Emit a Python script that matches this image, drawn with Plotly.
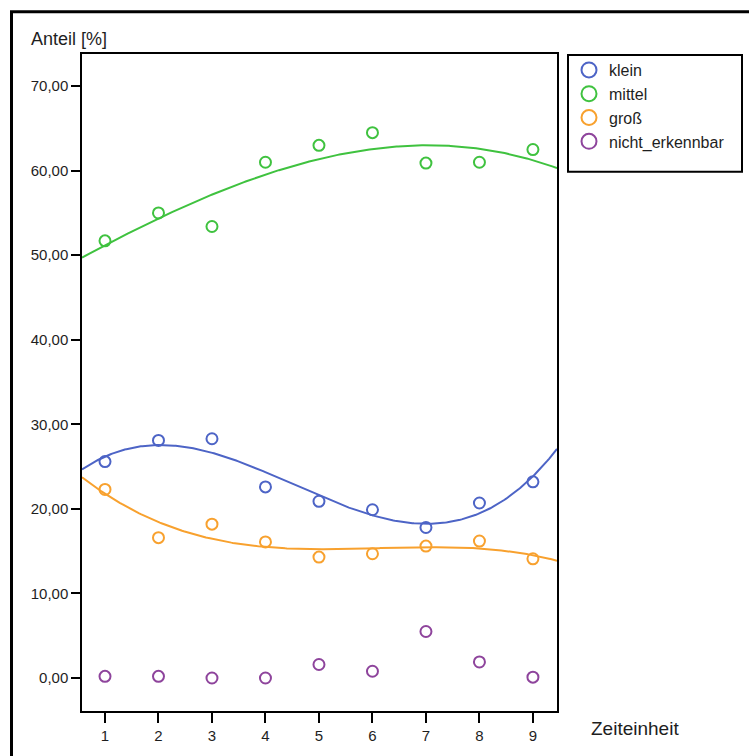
import numpy as np
import plotly.graph_objects as go

# Zeiteinheiten und Anteile je Größenklasse (in %)
zeit = [1, 2, 3, 4, 5, 6, 7, 8, 9]
klein = [25.6, 28.1, 28.3, 22.6, 20.9, 19.9, 17.8, 20.7, 23.2]
mittel = [51.7, 55.0, 53.4, 61.0, 63.0, 64.5, 60.9, 61.0, 62.5]
gross = [22.3, 16.6, 18.2, 16.1, 14.3, 14.7, 15.6, 16.2, 14.1]
nicht_erkennbar = [0.2, 0.2, 0.0, 0.0, 1.6, 0.8, 5.5, 1.9, 0.1]

namen = ["klein", "mittel", "groß", "nicht_erkennbar"]
farben = ["#4d64c6", "#3fc23f", "#f8a12e", "#8e449c"]
reihen = [klein, mittel, gross, nicht_erkennbar]
mit_anpassung = [True, True, True, False]

y_ticks = [0, 10, 20, 30, 40, 50, 60, 70]
x_bereich = [0.57, 9.45]
y_bereich = [-3.9, 73.8]

FONT = "Liberation Sans, Arial, sans-serif"
TEXT = "#1e1e1e"

fig = go.Figure()
x_fein = np.linspace(x_bereich[0], x_bereich[1], 300)

for name, farbe, werte, fit in zip(namen, farben, reihen, mit_anpassung):
    if fit:
        # kubische Anpassungslinie
        koeff = np.polyfit(zeit, werte, 3)
        fig.add_trace(go.Scatter(
            x=x_fein, y=np.polyval(koeff, x_fein), mode="lines",
            line=dict(color=farbe, width=2), showlegend=False, hoverinfo="skip"))
    fig.add_trace(go.Scatter(
        x=zeit, y=werte, mode="markers", showlegend=False,
        marker=dict(symbol="circle-open", size=11, color=farbe,
                    line=dict(width=2, color=farbe))))
    # Legendeneintrag
    fig.add_trace(go.Scatter(
        x=[None], y=[None], mode="markers", name=name, legendgroup=name,
        marker=dict(symbol="circle-open", size=15, color=farbe,
                    line=dict(width=2, color=farbe))))

L, R, T, B = 82, 192, 54, 43
W, H = 749, 756
pw, ph = W - L - R, H - T - B


def px(x):
    return (x - L) / pw


def py(y):
    return (H - B - y) / ph


fig.update_layout(
    width=W, height=H,
    margin=dict(l=L, r=R, t=T, b=B),
    paper_bgcolor="white", plot_bgcolor="white",
    separators=",.",
    font=dict(family=FONT, size=15, color=TEXT),
    xaxis=dict(range=x_bereich, tickvals=zeit, ticks="outside", ticklen=10,
               tickwidth=1.5, tickcolor="black", showgrid=False, zeroline=False,
               showline=True, linecolor="black", linewidth=1.5, mirror=True,
               tickfont=dict(size=15, color=TEXT)),
    yaxis=dict(range=y_bereich, tickvals=y_ticks, tickformat=".2f",
               ticks="outside", ticklen=9, tickwidth=1.5, tickcolor="black",
               showgrid=False, zeroline=False, showline=True,
               linecolor="black", linewidth=1.5, mirror=True,
               tickfont=dict(size=15, color=TEXT)),
    legend=dict(x=px(569), y=py(53), xanchor="left", yanchor="top",
                bgcolor="rgba(0,0,0,0)", borderwidth=0,
                font=dict(family=FONT, size=16, color=TEXT),
                tracegroupgap=0, itemclick=False),
    showlegend=True,
)

# Rahmen der Legende
fig.add_shape(type="rect", xref="paper", yref="paper",
              x0=px(568), x1=px(742), y0=py(172), y1=py(55),
              line=dict(color="black", width=2), fillcolor="rgba(0,0,0,0)")
# äußerer Rahmen
fig.add_shape(type="rect", xref="paper", yref="paper",
              x0=px(11.5), x1=px(820), y0=py(820), y1=py(11.5),
              line=dict(color="black", width=3), fillcolor="rgba(0,0,0,0)")

fig.add_annotation(text="Anteil [%]", xref="paper", yref="paper",
                   x=px(29), y=py(39), xanchor="left", yanchor="middle",
                   showarrow=False, font=dict(family=FONT, size=18, color=TEXT))
fig.add_annotation(text="Zeiteinheit", xref="paper", yref="paper",
                   x=px(589), y=py(731), xanchor="left", yanchor="middle",
                   showarrow=False, font=dict(family=FONT, size=19, color=TEXT))

fig.write_html("out.html")
